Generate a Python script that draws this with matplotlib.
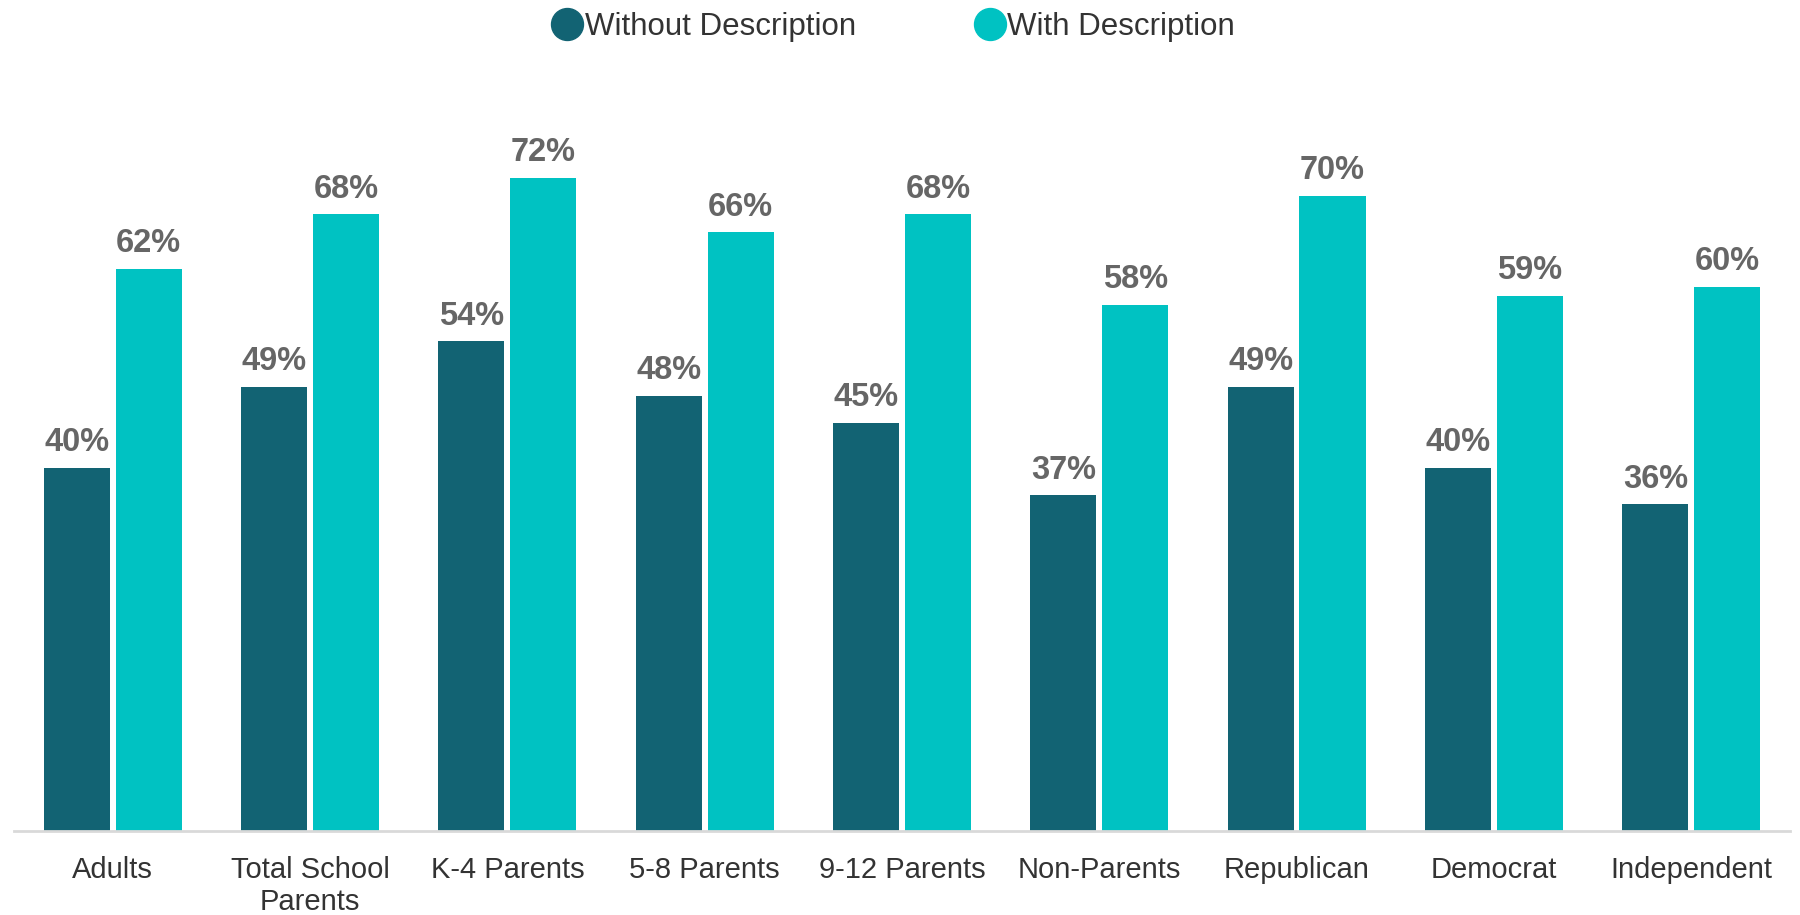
import numpy as np
import matplotlib.pyplot as plt
from matplotlib.lines import Line2D

categories = ["Adults", "Total School\nParents", "K-4 Parents", "5-8 Parents", "9-12 Parents",
              "Non-Parents", "Republican", "Democrat", "Independent"]
without_desc = [40, 49, 54, 48, 45, 37, 49, 40, 36]
with_desc = [62, 68, 72, 66, 68, 58, 70, 59, 60]
series_names = ["Without Description", "With Description"]

dark = "#126373"
light = "#00C2C2"

plt.rcParams['font.family'] = ['Liberation Sans', 'DejaVu Sans']

fig = plt.figure(figsize=(18, 9.15), dpi=100)
ax = fig.add_axes([0.0078, 0.0918, 0.9866, 0.793])

x = np.arange(len(categories))
w = 0.335
off = 0.182
b1 = ax.bar(x - off, without_desc, w, color=dark)
b2 = ax.bar(x + off, with_desc, w, color=light)

for bars, vals in [(b1, without_desc), (b2, with_desc)]:
    for b, v in zip(bars, vals):
        ax.annotate(f"{v}%", (b.get_x() + b.get_width() / 2, v), xytext=(0, 7),
                    textcoords="offset points", ha="center", va="bottom",
                    fontsize=23.5, fontweight="bold", color="#666666")

ax.set_xlim(-0.5, len(categories) - 0.5)
ax.set_ylim(0, 80)
ax.set_yticks([])
ax.set_xticks(x)
ax.set_xticklabels(categories, fontsize=21, color="#333333", linespacing=1.2)
ax.tick_params(axis="x", length=0, pad=18)
for s in ["top", "right", "left"]:
    ax.spines[s].set_visible(False)
ax.spines["bottom"].set_color("#D9D9D9")
ax.spines["bottom"].set_linewidth(2)

handles = [Line2D([], [], marker="o", linestyle="none", markersize=23, color=c)
           for c in (dark, light)]
fig.legend(handles, series_names, loc="upper center", bbox_to_anchor=(0.492, 1.018), ncol=2,
           frameon=False, fontsize=22.5, handletextpad=-0.45, columnspacing=3.3,
           labelcolor="#333333")

fig.savefig("out.png", dpi=100)
